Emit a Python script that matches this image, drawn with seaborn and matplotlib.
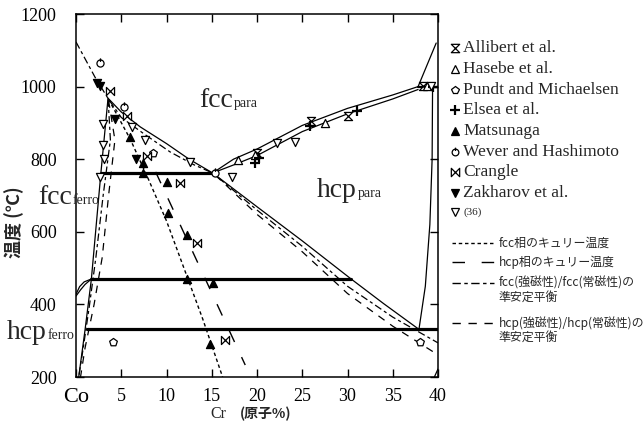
import matplotlib
matplotlib.use("Agg")
import matplotlib.pyplot as plt
from matplotlib.lines import Line2D
from matplotlib.path import Path
import seaborn as sns

# ---------------- phase boundaries: Cr (at.%) vs temperature (°C) ----------------
fcc_left_x = [3.54, 2.75, 1.7, 1.0, 0.3]
fcc_left_t = [968, 762, 470, 330, 200]
fcc_para_x = [3.54, 5.0, 7.1, 10.0, 12.5, 15.1]
fcc_para_t = [968, 930, 889, 843, 800, 762]
hcp_para_x = [15.1, 20.0, 25.0, 30.4, 34.0, 37.8]
hcp_para_t = [762, 669, 575, 470, 402, 333]
band_up_x = [15.1, 17.4, 20.0, 25.0, 30.0, 35.0, 37.8]
band_up_t = [762, 800, 828, 893, 940, 977, 1000]
band_lo_x = [15.1, 17.5, 20.0, 25.0, 30.0, 35.0, 37.8]
band_lo_t = [762, 785, 810, 876, 925, 966, 992]
sigma_up_x = [37.8, 39.8]
sigma_up_t = [1000, 1120]
sigma_top_x = [37.8, 40.0]
sigma_top_t = [1000, 1000]
hcp_sigma_x = [39.4, 39.35, 39.1, 38.6, 37.9]
hcp_sigma_t = [1000, 800, 620, 450, 332]
corner_x = [39.6, 40.0]
corner_t = [200, 222]
co_trans1_x = [0.0, 0.5, 1.0, 1.7]
co_trans1_t = [423, 440, 455, 470]
co_trans2_x = [0.0, 0.4, 0.9, 1.7]
co_trans2_t = [428, 449, 462, 470]

# invariant (horizontal) lines
iso_t = [762, 470, 332]
iso_x_from = [2.75, 1.7, 1.2]
iso_x_to = [15.1, 30.4, 40.0]

# magnetic lines
fcc_curie_x = [3.6, 6.0, 8.0, 10.0, 12.0, 14.0, 16.2]
fcc_curie_t = [965, 855, 745, 630, 495, 360, 200]
hcp_curie_x = [8.8, 18.7]
hcp_curie_t = [765, 233]
fcc_meta_x = [0.0, 2.1, 3.6, 5.0, 7.5, 10.4, 13.0, 15.1, 20.0, 25.0, 30.0, 35.0, 40.0]
fcc_meta_t = [1123, 1026, 965, 915, 870, 820, 785, 762, 660, 560, 450, 365, 294]
fcc_meta_left_x = [3.55, 3.8, 3.0, 2.2, 1.5, 0.8, 0.3]
fcc_meta_left_t = [965, 853, 700, 530, 400, 280, 200]
hcp_meta_left_x = [3.6, 4.3, 3.6, 2.9, 2.0, 1.0, 0.5]
hcp_meta_left_t = [962, 853, 700, 530, 400, 280, 200]
hcp_meta_right_x = [15.4, 20.0, 25.0, 30.0, 35.0, 40.0]
hcp_meta_right_t = [756, 648, 545, 430, 340, 261]

# ---------------- experimental points ----------------
allibert_x = [20.0, 26.0, 30.0, 38.3]
allibert_t = [818, 905, 918, 1003]
hasebe_x = [17.9, 19.8, 27.5, 38.8]
hasebe_t = [798, 812, 900, 1002]
pundt_x = [4.1, 8.5, 38.0]
pundt_t = [296, 818, 296]
elsea_x = [19.8, 20.2, 25.9, 31.0, 39.4]
elsea_t = [790, 803, 892, 933, 998]
matsunaga_x = [6.0, 7.4, 7.4, 10.0, 10.2, 12.3, 12.3, 15.1, 14.8]
matsunaga_t = [862, 790, 762, 737, 652, 590, 470, 460, 292]
wever_x = [2.7, 5.3, 15.4]
wever_t = [1065, 944, 763]
crangle_x = [3.8, 5.6, 7.9, 11.5, 13.4, 16.5]
crangle_t = [988, 920, 808, 734, 570, 302]
zakharov_x = [2.3, 2.7, 4.3, 6.6]
zakharov_t = [1010, 1003, 912, 800]
ref36_x = [2.6, 3.1, 3.0, 3.0, 6.2, 7.6, 12.6, 17.2, 22.2, 24.2, 39.2]
ref36_t = [752, 800, 840, 898, 889, 853, 793, 752, 845, 848, 1003]

x_ticks = [0, 5, 10, 15, 20, 25, 30, 35, 40]
x_tick_labels = ["Co", "5", "10", "15", "20", "25", "30", "35", "40"]
y_ticks = [200, 400, 600, 800, 1000, 1200]

source_labels = ["Allibert et al.", "Hasebe et al.", "Pundt and Michaelsen", "Elsea et al.",
                 "Matsunaga", "Wever and Hashimoto", "Crangle", "Zakharov et al.", "(36)"]
line_labels = [["fcc相のキュリー温度"], ["hcp相のキュリー温度"],
               ["fcc(強磁性)/fcc(常磁性)の", "準安定平衡"],
               ["hcp(強磁性)/hcp(常磁性)の", "準安定平衡"]]

# ---------------- style ----------------
sns.set_style("ticks")
plt.rcParams["font.family"] = ["Liberation Serif", "Noto Sans CJK JP"]
plt.rcParams["axes.linewidth"] = 1.1

W, H = 644, 426
fig = plt.figure(figsize=(W / 100, H / 100), dpi=100)


def fx(px):
    return px / W


def fy(py):
    return 1 - py / H


ax = fig.add_axes([fx(76), fy(377), (438 - 76) / W, (377 - 14) / H])

# marker shapes
hourglass = Path([(-1, 1), (1, 1), (-1, -1), (1, -1), (-1, 1)],
                 [Path.MOVETO, Path.LINETO, Path.LINETO, Path.LINETO, Path.CLOSEPOLY])
bowtie = Path([(-1, 1), (1, -1), (1, 1), (-1, -1), (-1, 1)],
              [Path.MOVETO, Path.LINETO, Path.LINETO, Path.LINETO, Path.CLOSEPOLY])
circle_tick = Path.make_compound_path(Path.unit_circle(),
                                      Path([(0, 0.45), (0, 1.45)], [Path.MOVETO, Path.LINETO]))

SHORT = (0, (2.5, 2.0))
LONG_GAP = (0, (9, 12))
DASH_DOT = (0, (6, 2.5, 2.5, 2.5))
MEDIUM = (0, (6, 5.5))


def curve(xs, ts, lw=0.9, ls="-", z=2):
    sns.lineplot(x=xs, y=ts, sort=False, estimator=None, color="black",
                 lw=lw, linestyle=ls, ax=ax, zorder=z)


# solid phase boundaries
for xs, ts in [(fcc_left_x, fcc_left_t), (fcc_para_x, fcc_para_t), (hcp_para_x, hcp_para_t),
               (band_up_x, band_up_t), (band_lo_x, band_lo_t), (sigma_up_x, sigma_up_t),
               (hcp_sigma_x, hcp_sigma_t), (corner_x, corner_t),
               (co_trans1_x, co_trans1_t), (co_trans2_x, co_trans2_t)]:
    curve(xs, ts)
curve(sigma_top_x, sigma_top_t, lw=1.6)

# invariant temperatures
for t, x0, x1 in zip(iso_t, iso_x_from, iso_x_to):
    curve([x0, x1], [t, t], lw=2.3, z=3)

# magnetic transitions
curve(fcc_curie_x, fcc_curie_t, lw=1.0, ls=SHORT)
curve(hcp_curie_x, hcp_curie_t, lw=1.0, ls=LONG_GAP)
curve(fcc_meta_x, fcc_meta_t, lw=0.9, ls=DASH_DOT)
curve(fcc_meta_left_x, fcc_meta_left_t, lw=0.9, ls=DASH_DOT)
curve(hcp_meta_left_x, hcp_meta_left_t, lw=0.9, ls=MEDIUM)
curve(hcp_meta_right_x, hcp_meta_right_t, lw=0.9, ls=MEDIUM)

# experimental points
point_sets = [
    (allibert_x, allibert_t, hourglass, False),
    (hasebe_x, hasebe_t, "^", False),
    (pundt_x, pundt_t, "p", False),
    (elsea_x, elsea_t, "P", True),
    (matsunaga_x, matsunaga_t, "^", True),
    (wever_x, wever_t, circle_tick, False),
    (crangle_x, crangle_t, bowtie, False),
    (zakharov_x, zakharov_t, "v", True),
    (ref36_x, ref36_t, "v", False),
]
for xs, ts, mk, filled in point_sets:
    if mk == "P":
        sns.scatterplot(x=xs, y=ts, marker="+", s=45, color="black", linewidth=1.6,
                        ax=ax, zorder=5)
    else:
        size = 55 if mk is circle_tick else 34
        sns.scatterplot(x=xs, y=ts, marker=mk, s=size, color="black",
                        facecolors="black" if filled else "white",
                        edgecolor="black", linewidth=0.9, ax=ax, zorder=5)

ax.set_xlim(0, 40)
ax.set_ylim(200, 1200)
ax.set_xticks(x_ticks)
ax.set_xticklabels(x_tick_labels)
ax.set_yticks(y_ticks)
ax.set_xlabel("")
ax.set_ylabel("")
ax.tick_params(axis="both", direction="in", length=6, width=1, top=True, right=True,
               labelsize=13, colors="black")
ax.tick_params(axis="x", pad=8)
ax.tick_params(axis="y", pad=14)
ax.get_xticklabels()[0].set_fontsize(16)
for sp in ax.spines.values():
    sp.set_visible(True)
    sp.set_color("black")

# axis titles
fig.text(fx(14), fy(222), "温度 (℃)", rotation=90, ha="center", va="center",
         fontsize=13, family=["Noto Sans CJK JP", "DejaVu Sans"], weight="bold")
fig.text(fx(218), fy(414), "Cr", ha="center", va="center", fontsize=11.5)
fig.text(fx(266), fy(414), "(原子%)", ha="center", va="center", fontsize=10,
         family=["Noto Sans CJK JP", "DejaVu Sans"], weight="bold")


# phase field names
def phase_label(split_px, base_px, main, sub):
    fig.text(fx(split_px), fy(base_px), main, ha="right", va="baseline", fontsize=20)
    fig.text(fx(split_px + 1), fy(base_px), sub, ha="left", va="baseline", fontsize=10)


phase_label(233, 107, "fcc", "para")
phase_label(357, 197, "hcp", "para")
phase_label(72, 204, "fcc", "ferro")
phase_label(47, 339, "hcp", "ferro")

# legend of data sources
rows = [48, 69, 90, 110, 131, 152, 172, 193, 212]
for (xs, ts, mk, filled), label, y in zip(point_sets, source_labels, rows):
    if mk == "P":
        fig.add_artist(Line2D([fx(455)], [fy(y)], marker="+", markersize=7, mew=1.6,
                              color="black", ls="none", transform=fig.transFigure))
    else:
        fig.add_artist(Line2D([fx(455)], [fy(y)], marker=mk,
                              markersize=7 if mk is circle_tick else 6, mew=0.9,
                              mfc="black" if filled else "white", mec="black",
                              ls="none", transform=fig.transFigure))
    fig.text(fx(463), fy(y), label, ha="left", va="center",
             fontsize=8 if label == "(36)" else 12.6)

# legend of line styles
line_rows = [243, 262, 283, 323]
for ls, texts, y in zip([SHORT, LONG_GAP, DASH_DOT, MEDIUM], line_labels, line_rows):
    fig.add_artist(Line2D([fx(452), fx(494)], [fy(y), fy(y)], ls=ls, lw=1.0,
                          color="black", transform=fig.transFigure))
    for k, txt in enumerate(texts):
        fig.text(fx(499), fy(y + 14 * k), txt, ha="left", va="center", fontsize=8.6,
                 family=["Noto Sans CJK JP", "DejaVu Sans"])

fig.savefig("out.png", dpi=100)
